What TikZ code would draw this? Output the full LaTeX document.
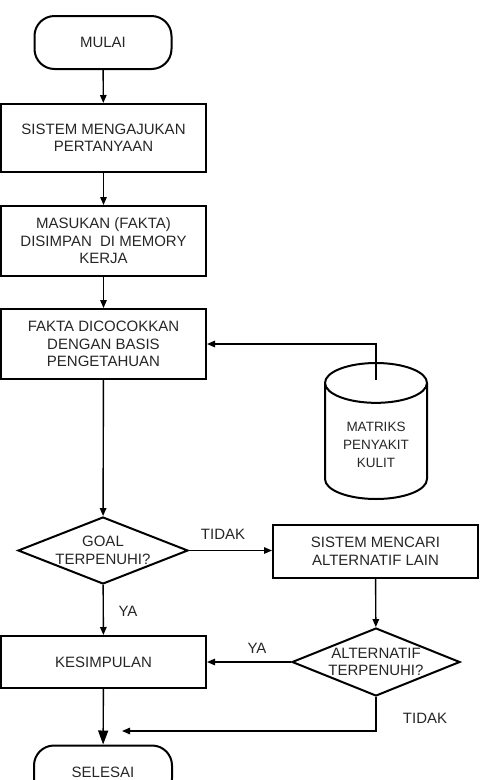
\documentclass[tikz,border=0pt]{standalone}
\usepackage{fontspec}
\setmainfont{Liberation Sans}
\usetikzlibrary{arrows.meta,positioning,shapes.geometric}

\begin{document}
\begin{tikzpicture}[x=1pt,y=-1pt,
  term/.style={draw,rectangle,rounded corners=20pt,minimum width=137pt,minimum height=53pt,
               line width=2pt,font=\fontsize{15}{17.5}\selectfont,text=black!85,align=center},
  proc/.style={draw,rectangle,minimum width=205pt,line width=2pt,
               font=\fontsize{15}{17.5}\selectfont,text=black!85,align=center},
  decide/.style={draw,diamond,minimum width=170pt,minimum height=67pt,inner sep=0pt,line width=2pt,
                 label={[font=\fontsize{15}{17.5}\selectfont,text=black!85,align=center]center:#1}},
  store/.style={draw,cylinder,shape border rotate=90,aspect=0.55,minimum width=102pt,minimum height=136pt,
                line width=2pt,font=\fontsize{13.5}{18}\selectfont,text=black!85,align=center},
  lbl/.style={font=\fontsize{15}{17.5}\selectfont,text=black!85},
  arr/.style={-{Triangle[length=8pt,width=6.5pt]},line width=1.4pt},
  bigarr/.style={-{Triangle[length=14pt,width=10pt]},line width=1.4pt}
]
\useasboundingbox (0,0) rectangle (484,780);

% Main column
\node[term] (mulai) at (103,42.5) {MULAI};
\node[proc,minimum height=68pt] (tanya) at (103.5,138) {SISTEM MENGAJUKAN\\PERTANYAAN};
\node[proc,minimum height=70pt] (simpan) at (103.5,241) {MASUKAN (FAKTA)\\DISIMPAN\ \ DI MEMORY\\KERJA};
\node[proc,minimum height=70pt] (cocok) at (103.5,344) {FAKTA DICOCOKKAN\\DENGAN BASIS\\PENGETAHUAN};
\node[decide={GOAL\\TERPENUHI?}] (goal) at (103,550.5) {};
\node[proc,minimum height=52pt] (simpul) at (103.5,662) {KESIMPULAN};
\node[term,minimum width=138pt] (selesai) at (103,772) {SELESAI};

% Right column
\node[store] (matriks) at (376,445) {MATRIKS\\PENYAKIT\\KULIT};
\coordinate (masuk) at (376,380);
\node[proc,minimum height=53pt] (cari) at (375.5,551.5) {SISTEM MENCARI\\ALTERNATIF LAIN};
\node[decide={ALTERNATIF\\TERPENUHI?},minimum width=168pt,minimum height=68pt] (alt) at (376,662) {};
\coordinate (ujung) at (122,731);

% Labels
\node[lbl] (tidak1) at (223,534) {TIDAK};
\node[lbl] (ya1) at (128,611) {YA};
\node[lbl] (ya2) at (257,648) {YA};
\node[lbl] (tidak2) at (425,718) {TIDAK};

% Arrows
\draw[arr] (mulai) -- (tanya);
\draw[arr] (tanya) -- (simpan);
\draw[arr] (simpan) -- (cocok);
\draw[arr] (masuk) |- (cocok.east);
\draw[arr] (cocok) -- (goal);
\draw[arr] (goal.east) -- (cari.west |- goal.east);
\draw[arr] (cari) -- (alt);
\draw[arr] (goal) -- (simpul);
\draw[arr] (alt.west) -- (simpul.east);
\draw[bigarr] (simpul) -- (selesai);
\draw[arr] (alt.south) |- (ujung);

\end{tikzpicture}
\end{document}
